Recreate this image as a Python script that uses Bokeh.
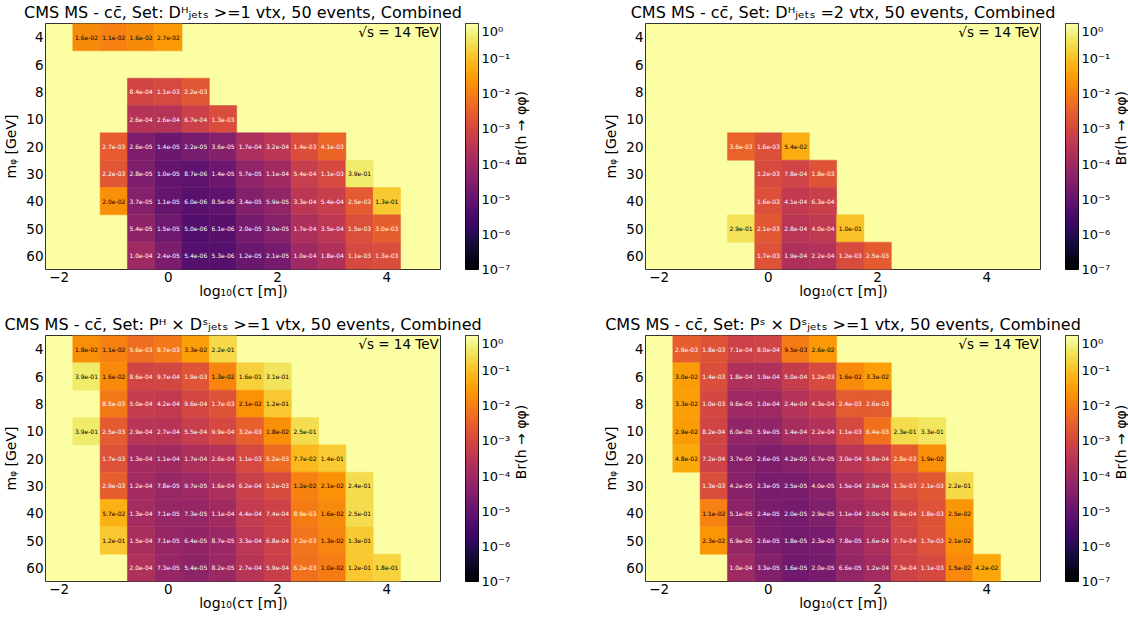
import math
import numpy as np
from bokeh.plotting import figure
from bokeh.models import (FactorRange, Range1d, ColumnDataSource, LinearColorMapper,
                          FixedTicker, CustomJSTickFormatter)
from bokeh.palettes import Inferno256
from bokeh.layouts import row, column
from bokeh.transform import log_cmap
from bokeh.core.properties import value
from bokeh.embed import file_html
from bokeh.resources import INLINE

# ---------------- data ----------------
MASSES = ["4", "6", "8", "10", "20", "30", "40", "50", "60"]
CTAU = [-2.0, -1.5, -1.0, -0.5, 0.0, 0.5, 1.0, 1.5, 2.0, 2.5, 3.0, 3.5, 4.0, 4.5]
X_TICKS = [-2, 0, 2, 4]
CBAR_EXPONENTS = [-7, -6, -5, -4, -3, -2, -1, 0]
CBAR_LABEL = "Br(h \u2192 \u03c6\u03c6)"

TITLE1 = "CMS MS - cc\u0304, Set: D\u1d34\u2c7c\u2091\u209c\u209b >=1 vtx, 50 events, Combined"
TITLE2 = "CMS MS - cc\u0304, Set: D\u1d34\u2c7c\u2091\u209c\u209b =2 vtx, 50 events, Combined"
TITLE3 = "CMS MS - cc\u0304, Set: P\u1d34 \u00d7 D\u02e2\u2c7c\u2091\u209c\u209b >=1 vtx, 50 events, Combined"
TITLE4 = "CMS MS - cc\u0304, Set: P\u02e2 \u00d7 D\u02e2\u2c7c\u2091\u209c\u209b >=1 vtx, 50 events, Combined"

# first log10(c tau) of each mass row, then the row values
P1_START = {"4": -1.5, "8": -0.5, "10": -0.5, "20": -1.0, "30": -1.0, "40": -1.0, "50": -0.5, "60": -0.5}
P1_VALUES = {
    "4": [1.6e-2, 1.1e-2, 1.6e-2, 2.7e-2],
    "8": [8.4e-4, 1.1e-3, 2.2e-3],
    "10": [2.6e-4, 2.6e-4, 6.7e-4, 1.3e-3],
    "20": [2.7e-3, 2.6e-5, 1.4e-5, 2.2e-5, 3.6e-5, 1.7e-4, 3.2e-4, 1.4e-3, 4.1e-3],
    "30": [2.2e-3, 2.8e-5, 1.0e-5, 8.7e-6, 1.4e-5, 5.7e-5, 1.1e-4, 5.4e-4, 1.1e-3, 3.9e-1],
    "40": [2.0e-2, 3.7e-5, 1.1e-5, 6.0e-6, 8.5e-6, 3.4e-5, 5.9e-5, 3.3e-4, 5.4e-4, 2.5e-3, 1.3e-1],
    "50": [5.4e-5, 1.5e-5, 5.0e-6, 6.1e-6, 2.0e-5, 3.9e-5, 1.7e-4, 3.5e-4, 1.5e-3, 3.0e-3],
    "60": [1.0e-4, 2.4e-5, 5.4e-6, 5.3e-6, 1.2e-5, 2.1e-5, 1.0e-4, 1.8e-4, 1.1e-3, 1.3e-3],
}

P2_START = {"20": -0.5, "30": 0.0, "40": 0.0, "50": -0.5, "60": 0.0}
P2_VALUES = {
    "20": [3.6e-3, 1.6e-3, 5.4e-2],
    "30": [1.2e-3, 7.8e-4, 1.8e-3],
    "40": [1.6e-3, 4.1e-4, 6.3e-4],
    "50": [2.9e-1, 2.1e-3, 2.8e-4, 4.0e-4, 1.0e-1],
    "60": [1.7e-3, 1.9e-4, 2.2e-4, 1.2e-3, 2.5e-3],
}

P3_START = {"4": -1.5, "6": -1.5, "8": -1.0, "10": -1.5, "20": -1.0, "30": -1.0, "40": -1.0, "50": -1.0, "60": -0.5}
P3_VALUES = {
    "4": [1.8e-2, 1.1e-2, 5.6e-3, 8.7e-3, 3.3e-2, 2.2e-1],
    "6": [3.9e-1, 1.6e-2, 8.6e-4, 9.7e-4, 1.9e-3, 1.3e-2, 1.6e-1, 3.1e-1],
    "8": [8.5e-3, 5.0e-4, 4.2e-4, 9.6e-4, 1.7e-3, 2.1e-2, 1.2e-1],
    "10": [3.9e-1, 2.5e-3, 2.9e-4, 2.7e-4, 5.5e-4, 9.9e-4, 3.2e-3, 1.8e-2, 2.5e-1],
    "20": [1.7e-3, 1.3e-4, 1.1e-4, 1.7e-4, 2.6e-4, 1.1e-3, 5.2e-3, 7.7e-2, 1.4e-1],
    "30": [2.9e-3, 1.2e-4, 7.8e-5, 9.7e-5, 1.6e-4, 6.2e-4, 1.2e-3, 1.2e-2, 2.1e-2, 2.4e-1],
    "40": [5.7e-2, 1.3e-4, 7.1e-5, 7.3e-5, 1.1e-4, 4.4e-4, 7.4e-4, 8.9e-3, 1.6e-2, 2.5e-1],
    "50": [1.2e-1, 1.5e-4, 7.1e-5, 6.4e-5, 8.7e-5, 3.3e-4, 6.8e-4, 7.2e-3, 1.3e-2, 1.3e-1],
    "60": [2.0e-4, 7.3e-5, 5.4e-5, 8.2e-5, 2.7e-4, 5.9e-4, 6.2e-3, 1.0e-2, 1.2e-1, 1.8e-1],
}

P4_START = {"4": -1.5, "6": -1.5, "8": -1.5, "10": -1.5, "20": -1.5, "30": -1.0, "40": -1.0, "50": -1.0, "60": -0.5}
P4_VALUES = {
    "4": [2.9e-3, 1.8e-3, 7.1e-4, 8.0e-4, 9.5e-3, 2.6e-2],
    "6": [3.0e-2, 1.4e-3, 1.8e-4, 1.9e-4, 5.0e-4, 1.2e-3, 1.6e-2, 3.3e-2],
    "8": [3.3e-2, 1.0e-3, 9.6e-5, 1.0e-4, 2.4e-4, 4.3e-4, 2.4e-3, 2.6e-3],
    "10": [2.9e-2, 8.2e-4, 6.0e-5, 5.9e-5, 1.4e-4, 2.2e-4, 1.1e-3, 6.4e-3, 2.3e-1, 3.3e-1],
    "20": [4.8e-2, 7.2e-4, 3.7e-5, 2.6e-5, 4.2e-5, 6.7e-5, 3.0e-4, 5.8e-4, 2.8e-3, 1.9e-2],
    "30": [1.3e-3, 4.2e-5, 2.3e-5, 2.5e-5, 4.0e-5, 1.5e-4, 2.9e-4, 1.3e-3, 2.1e-3, 2.2e-1],
    "40": [1.1e-2, 5.1e-5, 2.4e-5, 2.0e-5, 2.9e-5, 1.1e-4, 2.0e-4, 8.9e-4, 1.8e-3, 2.5e-2],
    "50": [2.3e-2, 6.9e-5, 2.6e-5, 1.8e-5, 2.3e-5, 7.8e-5, 1.6e-4, 7.7e-4, 1.7e-3, 2.1e-2],
    "60": [1.0e-4, 3.3e-5, 1.6e-5, 2.0e-5, 6.6e-5, 1.2e-4, 7.3e-4, 1.1e-3, 1.5e-2, 4.2e-2],
}

FONT = "DejaVu Sans"
CFMT = CustomJSTickFormatter(code="""
const m = {'-':'\\u207b','0':'\\u2070','1':'\\u00b9','2':'\\u00b2','3':'\\u00b3','4':'\\u2074',
           '5':'\\u2075','6':'\\u2076','7':'\\u2077','8':'\\u2078','9':'\\u2079'};
let s = '10';
for (const c of String(Math.round(tick))) { s += m[c]; }
return s;
""")

FRAME_W, FRAME_H = 397, 246
LEFT = 44
STRIP_H = 23
CB_H = 251
CB_LEFT, CB_W, CB_RIGHT = 24, 13, 35


def blank(width, height):
    f = figure(x_range=Range1d(0, width), y_range=Range1d(0, height),
               width=width, height=height,
               min_border_left=0, min_border_right=0, min_border_top=0, min_border_bottom=0,
               x_axis_location=None, y_axis_location=None,
               output_backend="svg", toolbar_location=None)
    f.outline_line_color = None
    f.grid.visible = False
    return f


def title_fig(text, width):
    # a strip above a panel that carries its (wide) title
    t = blank(width, STRIP_H)
    t.text(x=[LEFT + FRAME_W / 2], y=[STRIP_H / 2], text=[text], text_font=value(FONT),
           text_font_size="16px", text_align="center", text_baseline="middle",
           text_color="black")
    return t


def label_fig(width, height):
    # rotated colour-bar label, reading bottom to top
    f = blank(width, height)
    f.text(x=[7.5], y=[height - FRAME_H / 2], text=[CBAR_LABEL], angle=math.pi / 2,
           text_font=value(FONT), text_font_size="14px", text_align="center",
           text_baseline="middle", text_color="black")
    return f


def panel(starts, values, bottom):
    xs, ys, vs, labels, tcs = [], [], [], [], []
    for m in MASSES:
        if m not in values:
            continue
        i0 = CTAU.index(starts[m])
        for k, v in enumerate(values[m]):
            xs.append(CTAU[i0 + k])
            ys.append(m)
            vs.append(v)
            labels.append(f"{v:.1e}")
            tcs.append("black" if v >= 9.2e-3 else "white")
    src = ColumnDataSource(dict(x=xs, y=ys, v=vs, label=labels, tc=tcs))
    p = figure(x_range=Range1d(-2.25, 5.0), y_range=FactorRange(factors=MASSES[::-1]),
               width=LEFT + FRAME_W, height=FRAME_H + bottom,
               min_border_left=LEFT, min_border_right=0,
               min_border_top=0, min_border_bottom=bottom,
               output_backend="svg", toolbar_location=None)
    cmap = log_cmap("v", Inferno256, 1e-7, 1.0)
    p.rect(x="x", y="y", width=0.5, height=1, source=src,
           fill_color=cmap, line_color=cmap, line_width=0.5)
    p.text(x="x", y="y", text="label", source=src, text_color="tc",
           text_font=value(FONT), text_font_size="6px",
           text_align="center", text_baseline="middle")
    p.text(x=[4.95], y=["4"], text=["\u221as = 14 TeV"], text_font=value(FONT),
           text_font_size="13.5px", text_align="right", text_baseline="middle",
           y_offset=-5, text_color="black")
    p.background_fill_color = Inferno256[-1]
    p.border_fill_color = "white"
    p.grid.visible = False
    p.outline_line_color = "#333333"
    p.outline_line_width = 1
    p.xaxis.ticker = FixedTicker(ticks=X_TICKS)
    p.xaxis.axis_label = "log\u2081\u2080(c\u03c4 [m])"
    p.yaxis.axis_label = "m\u1d69 [GeV]"
    for ax in (p.xaxis[0], p.yaxis[0]):
        ax.axis_line_color = None
        ax.major_tick_out = 0
        ax.major_tick_in = 0
        ax.minor_tick_out = 0
        ax.minor_tick_in = 0
        ax.major_label_standoff = 2
        ax.major_label_text_font = FONT
        ax.major_label_text_font_size = "13.5px"
        ax.major_label_text_color = "black"
        ax.axis_label_text_font = FONT
        ax.axis_label_text_font_size = "14px"
        ax.axis_label_text_font_style = "normal"
        ax.axis_label_text_color = "black"
    p.xaxis[0].axis_label_standoff = -2
    p.yaxis[0].axis_label_standoff = 4
    return p


def cbar(height):
    c = figure(x_range=Range1d(0, 1), y_range=Range1d(-7, 0),
               width=CB_LEFT + CB_W + CB_RIGHT, height=height,
               min_border_left=CB_LEFT, min_border_right=CB_RIGHT,
               min_border_top=0, min_border_bottom=height - CB_H,
               x_axis_location=None, y_axis_location="right",
               output_backend="svg", toolbar_location=None)
    grad = np.linspace(-7, 0, 256).reshape(256, 1)
    c.image(image=[grad], x=0, y=-7, dw=1, dh=7,
            color_mapper=LinearColorMapper(palette=Inferno256, low=-7, high=0))
    c.grid.visible = False
    c.outline_line_color = "black"
    ax = c.yaxis[0]
    ax.ticker = FixedTicker(ticks=CBAR_EXPONENTS)
    ax.formatter = CFMT
    ax.axis_line_color = None
    ax.major_tick_out = 0
    ax.major_tick_in = 0
    ax.minor_tick_out = 0
    ax.minor_tick_in = 0
    ax.major_label_standoff = 3
    ax.major_label_text_font = FONT
    ax.major_label_text_font_size = "13px"
    ax.major_label_text_color = "black"
    return c


TOP_H = FRAME_H + 43
BOT_H = FRAME_H + 38
L1_W = 600 - (LEFT + FRAME_W) - (CB_LEFT + CB_W + CB_RIGHT)
L2_W = 1128 - 600 - (LEFT + FRAME_W) - (CB_LEFT + CB_W + CB_RIGHT)

t1 = title_fig(TITLE1, 600)
t2 = title_fig(TITLE2, 528)
t3 = title_fig(TITLE3, 600)
t4 = title_fig(TITLE4, 528)
p1 = panel(P1_START, P1_VALUES, 43)
p2 = panel(P2_START, P2_VALUES, 43)
p3 = panel(P3_START, P3_VALUES, 38)
p4 = panel(P4_START, P4_VALUES, 38)
c1 = cbar(TOP_H)
c2 = cbar(TOP_H)
c3 = cbar(BOT_H)
c4 = cbar(BOT_H)
l1 = label_fig(L1_W, TOP_H)
l2 = label_fig(L2_W, TOP_H)
l3 = label_fig(L1_W, BOT_H)
l4 = label_fig(L2_W, BOT_H)

layout = column(row(t1, t2), row(p1, c1, l1, p2, c2, l2),
                row(t3, t4), row(p3, c3, l3, p4, c4, l4))
open("out.html", "w").write(file_html(layout, INLINE))
